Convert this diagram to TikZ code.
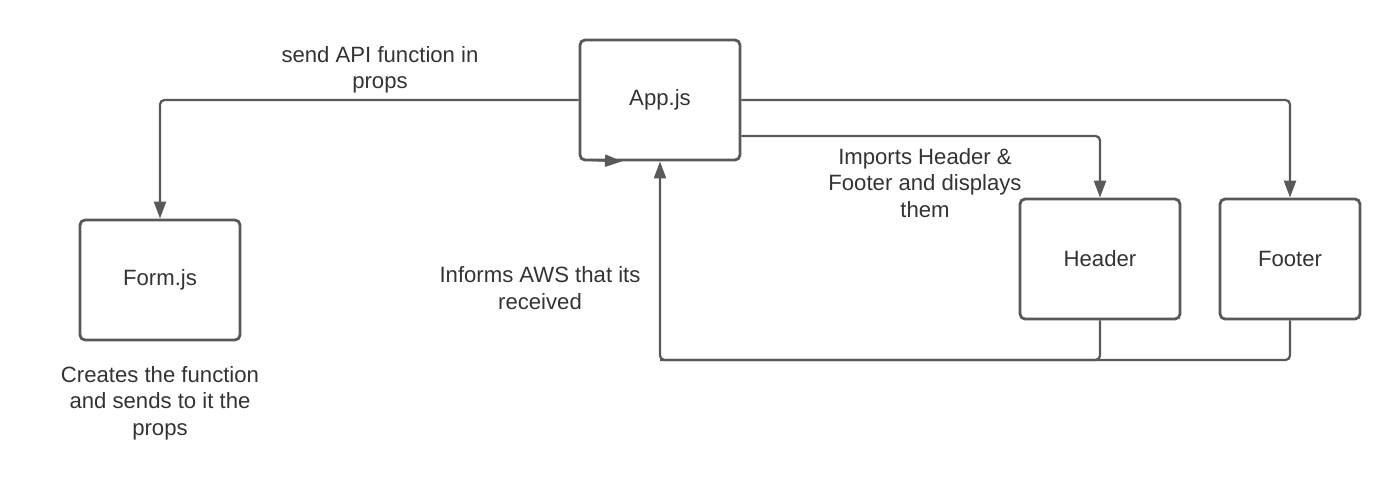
\documentclass[tikz,border=0pt]{standalone}
\usepackage{fontspec}
\setmainfont{Liberation Sans}
\usetikzlibrary{arrows.meta}
\definecolor{flowgray}{RGB}{89, 89, 89}
\definecolor{flowtext}{RGB}{51, 51, 51}

\begin{document}
\begin{tikzpicture}[x=0.02cm, y=-0.02cm,
  font=\fontsize{12.6}{15}\selectfont, text=flowtext,
  >={Triangle[length=0.34cm, width=0.24cm]},
  box/.style={draw=flowgray, line width=1.6pt, rounded corners=0.1cm, rectangle, minimum height=2.4cm},
  link/.style={->, draw=flowgray, line width=1.3pt, rounded corners=0.09cm},
  label/.style={align=center}]
\useasboundingbox (0,0) rectangle (1400,490);

% Components
\node[box, minimum width=3.2cm] (app) at (660,100) {App.js};
\node[box, minimum width=3.2cm] (form) at (160,280) {Form.js};
\node[box, minimum width=3.2cm] (header) at (1100,259) {Header};
\node[box, minimum width=2.8cm] (footer) at (1290,259) {Footer};

% Helper points
\coordinate (ret) at (660,360);
\coordinate (stub) at (590,160);

% Arrows
\draw[link] (app.west) -| (form.north);
\draw[link] (app.east) -| (footer.north);
\draw[link] ([yshift=-0.72cm]app.east) -| (header.north);
\draw[link] (header.south) |- (ret) -- (app.south);
\draw[link, -] (footer.south) |- (ret);
\draw[link] (stub) -- ([xshift=-0.76cm]app.south);

% Labels
\node[label] (lblsend) at (380,70) {send API function in\\props};
\node[label] (lblimport) at (925,183) {Imports Header \&\\Footer and displays\\them};
\node[label] (lblinform) at (540,288) {Informs AWS that its\\received};
\node[label] (lblform) at (160,403) {Creates the function\\and sends to it the\\props};
\end{tikzpicture}
\end{document}
